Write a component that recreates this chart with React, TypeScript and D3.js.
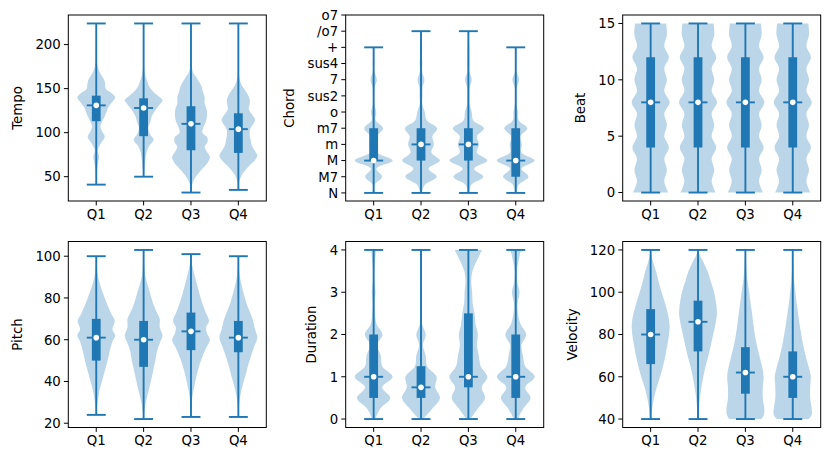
import React, { useEffect, useRef } from 'react';
import * as d3 from 'd3';

type Pt = [number, number];

const quarters = ['Q1', 'Q2', 'Q3', 'Q4'];

// Tempo
const tempoMin = [41, 50, 32, 35];
const tempoMax = [224, 224, 224, 224];
const tempoMedian = [131, 128, 110, 104];
const tempoLower = [113, 96, 80, 77];
const tempoUpper = [142, 139, 130, 122];
const tempoTicks = [50, 100, 150, 200];
const tempoShapes: Pt[][] = [
  [[41, 0], [50, 0.02], [60, 0.05], [68, 0.12], [73, 0.15], [80, 0.08], [88, 0.25], [95, 0.45], [102, 0.3], [107, 0.22], [113, 0.32], [120, 0.48], [128, 0.62], [135, 0.85], [140, 1.0], [145, 0.8], [150, 0.5], [155, 0.47], [160, 0.42], [165, 0.28], [170, 0.15], [178, 0.05], [190, 0.02], [224, 0]],
  [[50, 0], [55, 0.03], [62, 0.06], [70, 0.1], [78, 0.16], [85, 0.3], [92, 0.53], [98, 0.35], [105, 0.25], [112, 0.35], [118, 0.42], [125, 0.6], [132, 0.85], [137, 1.0], [142, 0.75], [148, 0.45], [153, 0.28], [158, 0.2], [163, 0.12], [170, 0.05], [180, 0.02], [224, 0]],
  [[32, 0], [40, 0.05], [46, 0.15], [52, 0.32], [58, 0.55], [65, 0.85], [72, 1.0], [78, 0.85], [84, 0.72], [90, 0.88], [95, 0.85], [100, 0.6], [106, 0.65], [112, 0.78], [120, 0.85], [127, 0.82], [133, 0.72], [140, 0.72], [147, 0.62], [153, 0.55], [158, 0.42], [163, 0.28], [168, 0.12], [175, 0.04], [190, 0.01], [224, 0]],
  [[35, 0], [42, 0.03], [48, 0.1], [55, 0.28], [62, 0.55], [68, 0.85], [74, 1.0], [80, 0.85], [86, 0.7], [92, 0.65], [98, 0.6], [104, 0.62], [110, 0.8], [115, 0.88], [120, 0.75], [127, 0.55], [133, 0.6], [138, 0.6], [145, 0.45], [150, 0.3], [155, 0.15], [162, 0.06], [170, 0.02], [185, 0.01], [224, 0]],
];

// Chord
const chordNames = ['N', 'M7', 'M', 'm', 'm7', 'o', 'sus2', '7', 'sus4', '+', '/o7', 'o7'];
const chordTicks = chordNames.map((_, i) => i);
const chordMin = [0, 0, 0, 0];
const chordMax = [9, 10, 10, 9];
const chordMedian = [2, 3, 3, 2];
const chordLower = [2, 2, 2, 1];
const chordUpper = [4, 4, 4, 4];
const chordShapes: Pt[][] = [
  [[0, 0.08], [0.5, 0.05], [1, 0.45], [1.5, 0.15], [2, 1.0], [2.5, 0.2], [3, 0.23], [3.5, 0.18], [4, 0.5], [4.5, 0.1], [5, 0.14], [5.5, 0.04], [6, 0.04], [6.5, 0.05], [7, 0.17], [7.5, 0.04], [8, 0.04], [8.5, 0.03], [9, 0.04]],
  [[0, 0.05], [0.5, 0.2], [1, 0.83], [1.5, 0.4], [2, 1.0], [2.5, 0.55], [3, 0.68], [3.5, 0.6], [4, 0.85], [4.5, 0.3], [5, 0.2], [5.5, 0.07], [6, 0.08], [6.5, 0.08], [7, 0.18], [7.5, 0.06], [8, 0.07], [8.5, 0.05], [9, 0.06], [9.5, 0.03], [10, 0.04]],
  [[0, 0.05], [0.5, 0.15], [1, 0.79], [1.5, 0.3], [2, 1.0], [2.5, 0.45], [3, 0.56], [3.5, 0.45], [4, 0.82], [4.5, 0.25], [5, 0.18], [5.5, 0.06], [6, 0.06], [6.5, 0.06], [7, 0.18], [7.5, 0.05], [8, 0.06], [8.5, 0.05], [9, 0.05], [9.5, 0.03], [10, 0.04]],
  [[0, 0.05], [0.5, 0.15], [1, 0.67], [1.5, 0.3], [2, 1.0], [2.5, 0.3], [3, 0.32], [3.5, 0.25], [4, 0.61], [4.5, 0.15], [5, 0.12], [5.5, 0.04], [6, 0.04], [6.5, 0.05], [7, 0.18], [7.5, 0.04], [8, 0.04], [8.5, 0.03], [9, 0.04]],
];

// Beat
const beatMin = [0, 0, 0, 0];
const beatMax = [15, 15, 15, 15];
const beatMedian = [8, 8, 8, 8];
const beatLower = [4, 4, 4, 4];
const beatUpper = [12, 12, 12, 12];
const beatTicks = [0, 5, 10, 15];
const beatProfile: Pt[] = [[0, 0.93], [1, 0.72], [2, 0.86], [3, 0.72], [4, 0.96], [5, 0.72], [6, 0.86], [7, 0.72], [8, 1.0], [9, 0.72], [10, 0.86], [11, 0.72], [12, 0.96], [13, 0.72], [14, 0.86], [15, 0.82]];
const beatShapes: Pt[][] = [beatProfile, beatProfile, beatProfile, beatProfile];

// Pitch
const pitchMin = [24, 22, 23, 23];
const pitchMax = [100, 103, 101, 100];
const pitchMedian = [61, 60, 64, 61];
const pitchLower = [50, 47, 55, 54];
const pitchUpper = [70, 69, 73, 69];
const pitchTicks = [20, 40, 60, 80, 100];
const pitchShapes: Pt[][] = [
  [[24, 0], [28, 0.04], [32, 0.1], [36, 0.18], [40, 0.3], [45, 0.45], [50, 0.6], [55, 0.72], [59, 0.85], [62, 1.0], [65, 0.85], [69, 0.98], [72, 0.82], [76, 0.62], [80, 0.45], [85, 0.25], [90, 0.1], [95, 0.03], [100, 0]],
  [[22, 0], [26, 0.05], [30, 0.12], [35, 0.25], [40, 0.38], [45, 0.5], [50, 0.62], [55, 0.72], [59, 0.88], [62, 1.0], [66, 0.85], [70, 0.85], [74, 0.65], [78, 0.48], [82, 0.35], [86, 0.22], [90, 0.1], [95, 0.04], [103, 0]],
  [[23, 0], [28, 0.03], [33, 0.08], [38, 0.18], [43, 0.3], [48, 0.45], [53, 0.65], [57, 0.85], [60, 1.0], [63, 0.85], [66, 0.8], [69, 0.95], [73, 0.78], [78, 0.58], [83, 0.42], [88, 0.27], [92, 0.16], [96, 0.06], [101, 0]],
  [[23, 0], [28, 0.03], [33, 0.1], [38, 0.22], [43, 0.38], [48, 0.52], [53, 0.7], [57, 0.85], [61, 1.0], [65, 0.88], [69, 0.78], [73, 0.62], [77, 0.45], [81, 0.32], [85, 0.2], [90, 0.08], [95, 0.02], [100, 0]],
];

// Duration
const durationMin = [0, 0, 0, 0];
const durationMax = [4, 4, 4, 4];
const durationMedian = [1, 0.75, 1, 1];
const durationLower = [0.5, 0.5, 0.75, 0.5];
const durationUpper = [2, 1.25, 2.5, 2];
const durationTicks = [0, 1, 2, 3, 4];
const durationShapes: Pt[][] = [
  [[0, 0.08], [0.25, 0.35], [0.5, 0.88], [0.75, 0.45], [1, 1.0], [1.25, 0.45], [1.5, 0.38], [1.75, 0.18], [2, 0.47], [2.25, 0.15], [2.5, 0.08], [2.75, 0.06], [3, 0.1], [3.25, 0.05], [3.5, 0.04], [3.75, 0.08], [4, 0.12]],
  [[0, 0.1], [0.25, 0.6], [0.5, 1.0], [0.75, 0.75], [1, 0.82], [1.25, 0.32], [1.5, 0.25], [1.75, 0.1], [2, 0.25], [2.25, 0.06], [2.5, 0.04], [3, 0.04], [3.5, 0.03], [4, 0.05]],
  [[0, 0.1], [0.25, 0.5], [0.5, 0.88], [0.75, 0.7], [1, 1.0], [1.25, 0.65], [1.5, 0.55], [1.75, 0.45], [2, 0.5], [2.25, 0.38], [2.5, 0.32], [2.75, 0.22], [3, 0.2], [3.25, 0.15], [3.5, 0.22], [3.75, 0.45], [4, 0.72]],
  [[0, 0.1], [0.25, 0.4], [0.5, 0.78], [0.75, 0.5], [1, 1.0], [1.25, 0.5], [1.5, 0.38], [1.75, 0.3], [2, 0.55], [2.25, 0.25], [2.5, 0.12], [2.75, 0.1], [3, 0.2], [3.25, 0.08], [3.5, 0.06], [3.75, 0.15], [4, 0.28]],
];

// Velocity
const velocityMin = [40, 40, 40, 40];
const velocityMax = [120, 120, 120, 120];
const velocityMedian = [80, 86, 62, 60];
const velocityLower = [66, 72, 52, 50];
const velocityUpper = [92, 96, 74, 72];
const velocityTicks = [40, 60, 80, 100, 120];
const velocityShapes: Pt[][] = [
  [[40, 0.03], [45, 0.08], [50, 0.18], [55, 0.32], [60, 0.5], [65, 0.65], [70, 0.78], [75, 0.88], [80, 0.97], [84, 1.0], [88, 0.95], [92, 0.85], [96, 0.72], [100, 0.58], [105, 0.42], [110, 0.28], [114, 0.14], [117, 0.05], [120, 0]],
  [[40, 0.02], [45, 0.05], [50, 0.1], [55, 0.18], [60, 0.28], [65, 0.4], [70, 0.55], [75, 0.68], [80, 0.8], [85, 0.92], [90, 1.0], [95, 0.95], [100, 0.85], [105, 0.68], [110, 0.5], [114, 0.3], [117, 0.12], [120, 0.02]],
  [[40, 0.85], [42, 0.98], [45, 1.0], [50, 0.92], [55, 0.92], [60, 0.96], [64, 0.9], [70, 0.74], [75, 0.6], [80, 0.5], [85, 0.42], [90, 0.35], [95, 0.27], [100, 0.2], [105, 0.12], [110, 0.06], [115, 0.03], [120, 0.01]],
  [[40, 0.85], [42, 1.0], [45, 1.0], [50, 0.92], [55, 0.92], [60, 0.95], [64, 0.86], [70, 0.68], [75, 0.55], [80, 0.45], [85, 0.36], [90, 0.28], [95, 0.2], [100, 0.14], [105, 0.08], [110, 0.04], [115, 0.02], [120, 0.01]],
];

interface Panel {
  label: string;
  labelX: number;
  ticks: number[];
  tickText?: string[];
  min: number[];
  max: number[];
  median: number[];
  lower: number[];
  upper: number[];
  shapes: Pt[][];
}

const panels: Panel[] = [
  { label: 'Tempo', labelX: 21.5, ticks: tempoTicks, min: tempoMin, max: tempoMax, median: tempoMedian, lower: tempoLower, upper: tempoUpper, shapes: tempoShapes },
  { label: 'Chord', labelX: 294, ticks: chordTicks, tickText: chordNames, min: chordMin, max: chordMax, median: chordMedian, lower: chordLower, upper: chordUpper, shapes: chordShapes },
  { label: 'Beat', labelX: 585.2, ticks: beatTicks, min: beatMin, max: beatMax, median: beatMedian, lower: beatLower, upper: beatUpper, shapes: beatShapes },
  { label: 'Pitch', labelX: 21.5, ticks: pitchTicks, min: pitchMin, max: pitchMax, median: pitchMedian, lower: pitchLower, upper: pitchUpper, shapes: pitchShapes },
  { label: 'Duration', labelX: 316.4, ticks: durationTicks, min: durationMin, max: durationMax, median: durationMedian, lower: durationLower, upper: durationUpper, shapes: durationShapes },
  { label: 'Velocity', labelX: 576.5, ticks: velocityTicks, min: velocityMin, max: velocityMax, median: velocityMedian, lower: velocityLower, upper: velocityUpper, shapes: velocityShapes },
];

const W = 831;
const H = 462;
const colLeft = [68.3, 345.7, 622.7];
const rowTop = [15, 241.5];
const axW = 198;
const axH = 186;
const blue = '#1f77b4';
const font = '13.3px "DejaVu Sans", sans-serif';

const App: React.FC = () => {
  const svgRef = useRef<SVGSVGElement>(null);

  useEffect(() => {
    if (!svgRef.current) return;
    const svg = d3.select(svgRef.current);
    svg.selectAll('*').remove();
    svg.append('rect').attr('width', W).attr('height', H).attr('fill', 'white');

    panels.forEach((p, i) => {
      const left = colLeft[i % 3];
      const top = rowTop[Math.floor(i / 3)];
      const g = svg.append('g').attr('transform', `translate(${left},${top})`);

      const x = d3.scaleLinear().domain([0.41, 4.59]).range([0, axW]);
      const lo = d3.min(p.min)!;
      const hi = d3.max(p.max)!;
      const pad = (hi - lo) * 0.05;
      const y = d3.scaleLinear()
        .domain([Math.min(lo - pad, p.ticks[0]), Math.max(hi + pad, p.ticks[p.ticks.length - 1])])
        .range([axH, 0]);
      const hw = x(1.4) - x(1);

      // Violin bodies
      quarters.forEach((_, k) => {
        const cx = x(k + 1);
        const area = d3.area<Pt>()
          .y(d => y(d[0]))
          .x0(d => cx - d[1] * hw)
          .x1(d => cx + d[1] * hw)
          .curve(d3.curveCatmullRom.alpha(0.5));
        g.append('path')
          .attr('d', area(p.shapes[k]))
          .attr('fill', blue)
          .attr('fill-opacity', 0.3);
      });

      // Extrema bars, caps and medians
      quarters.forEach((_, k) => {
        const pos = k + 1;
        g.append('line')
          .attr('x1', x(pos)).attr('x2', x(pos))
          .attr('y1', y(p.min[k])).attr('y2', y(p.max[k]))
          .attr('stroke', blue).attr('stroke-width', 1.9);
        [p.min[k], p.max[k], p.median[k]].forEach(v => {
          g.append('line')
            .attr('x1', x(pos - 0.2)).attr('x2', x(pos + 0.2))
            .attr('y1', y(v)).attr('y2', y(v))
            .attr('stroke', blue).attr('stroke-width', 1.9);
        });
      });

      // Interquartile boxes
      quarters.forEach((_, k) => {
        g.append('line')
          .attr('x1', x(k + 1)).attr('x2', x(k + 1))
          .attr('y1', y(p.lower[k])).attr('y2', y(p.upper[k]))
          .attr('stroke', blue).attr('stroke-width', 8.8);
      });

      // Median dots
      g.selectAll('circle.med')
        .data(p.median)
        .join('circle')
        .attr('class', 'med')
        .attr('cx', (_, k) => x(k + 1))
        .attr('cy', d => y(d))
        .attr('r', 2.8)
        .attr('fill', 'white');

      // Frame
      g.append('rect')
        .attr('width', axW).attr('height', axH)
        .attr('fill', 'none').attr('stroke', 'black').attr('stroke-width', 1);

      // Y ticks
      p.ticks.forEach((t, ti) => {
        g.append('line')
          .attr('x1', -4.4).attr('x2', 0)
          .attr('y1', y(t)).attr('y2', y(t))
          .attr('stroke', 'black').attr('stroke-width', 1);
        g.append('text')
          .attr('x', -7.5).attr('y', y(t)).attr('dy', '0.36em')
          .attr('text-anchor', 'end')
          .style('font', font)
          .attr('fill', 'black')
          .text(p.tickText ? p.tickText[ti] : String(t));
      });

      // X ticks
      quarters.forEach((q, k) => {
        g.append('line')
          .attr('x1', x(k + 1)).attr('x2', x(k + 1))
          .attr('y1', axH).attr('y2', axH + 4.4)
          .attr('stroke', 'black').attr('stroke-width', 1);
        g.append('text')
          .attr('x', x(k + 1)).attr('y', axH + 17.5)
          .attr('text-anchor', 'middle')
          .style('font', font)
          .attr('fill', 'black')
          .text(q);
      });

      // Y label
      svg.append('text')
        .attr('transform', `translate(${p.labelX},${top + axH / 2}) rotate(-90)`)
        .attr('text-anchor', 'middle')
        .style('font', font)
        .attr('fill', 'black')
        .text(p.label);
    });
  }, []);

  return (
    <svg
      ref={svgRef}
      width={W}
      height={H}
      style={{ position: 'absolute', left: 0, top: 0, display: 'block' }}
    />
  );
};

export default App;
